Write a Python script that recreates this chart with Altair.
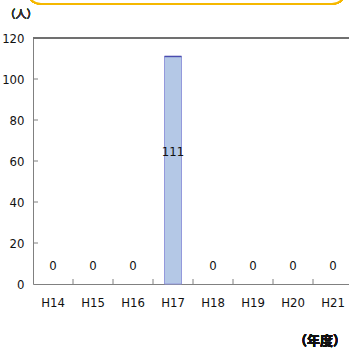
import altair as alt
import pandas as pd

# 年度別の人数
years = ["H14", "H15", "H16", "H17", "H18", "H19", "H20", "H21"]
counts = [0, 0, 0, 111, 0, 0, 0, 0]
y_ticks = [20, 40, 60, 80, 100]

df = pd.DataFrame({"year": years, "count": counts})
tick_df = pd.DataFrame({"v": y_ticks})
bound_df = pd.DataFrame({"year": years[1:]})

FONT = "DejaVu Sans Condensed"
JP_FONT = "Noto Sans CJK JP"
TEXT = "#111111"
W, H = 316, 246

x_scale = alt.Scale(domain=years, range=[0, 320], paddingInner=0, paddingOuter=0)
y_scale = alt.Scale(domain=[0, 120])

base = alt.Chart(df)

bars = base.transform_filter("datum.count > 0").mark_bar(
    size=17, fill="#b4c8e6", stroke="#9499dc", strokeWidth=1
).encode(
    x=alt.X("year:N", scale=x_scale, sort=years,
            axis=alt.Axis(title=None, ticks=False, domainColor="#808080", labelFont=FONT,
                          labelFontSize=13, labelColor=TEXT, labelPadding=12, labelAngle=0)),
    y=alt.Y("count:Q", scale=y_scale,
            axis=alt.Axis(title=None, values=[0, 20, 40, 60, 80, 100, 120], ticks=False,
                          grid=False, domainColor="#808080", labelFont=FONT, labelFontSize=13,
                          labelColor=TEXT, labelPadding=9)),
)

bar_top = base.transform_filter("datum.count > 0").mark_tick(
    size=17, thickness=1.5, color="#2a2a9a"
).encode(x=alt.X("year:N", scale=x_scale, sort=years), y=alt.Y("count:Q", scale=y_scale))

# 値ラベル（0 は基線の上、正の値は棒の中ほど）
zero_labels = base.transform_filter("datum.count == 0").mark_text(
    font=FONT, fontSize=13, color=TEXT, dy=-18
).encode(x=alt.X("year:N", scale=x_scale, sort=years), y=alt.Y("count:Q", scale=y_scale),
         text="count:Q")

mid_labels = base.transform_filter("datum.count > 0").transform_calculate(
    mid="datum.count / 2"
).mark_text(font=FONT, fontSize=13, color=TEXT, dy=-18).encode(
    x=alt.X("year:N", scale=x_scale, sort=years), y=alt.Y("mid:Q", scale=y_scale),
    text="count:Q")

x_ticks = alt.Chart(bound_df).mark_rule(color="#808080").encode(
    x=alt.X("year:N", scale=x_scale, sort=years, bandPosition=0),
    y=alt.value(H - 5), y2=alt.value(H))

y_tick_marks = alt.Chart(tick_df).mark_rule(color="#808080").encode(
    y=alt.Y("v:Q", scale=y_scale), x=alt.value(0), x2=alt.value(5))

top_line = alt.Chart(df).mark_rule(color="#707070").encode(
    x=alt.value(0), x2=alt.value(330), y=alt.value(0))

unit_top = alt.Chart(df).mark_text(font=JP_FONT, fontSize=11, color="#333").encode(
    x=alt.value(-12), y=alt.value(-23), text=alt.value("（人）"))

unit_bottom = alt.Chart(df).mark_text(font=JP_FONT, fontSize=13, fontWeight="bold",
                                      color=TEXT, align="right").encode(
    x=alt.value(313), y=alt.value(303), text=alt.value("（年度）"))

frame = alt.Chart(df).mark_rect(fill="white", stroke="#f5b800", strokeWidth=2,
                                cornerRadius=14).encode(
    x=alt.value(-6), x2=alt.value(313), y=alt.value(-70), y2=alt.value(-34))

chart = alt.layer(
    frame, top_line, bars, bar_top, x_ticks, y_tick_marks, zero_labels, mid_labels,
    unit_top, unit_bottom
).properties(
    width=W, height=H,
    autosize=alt.AutoSizeParams(type="none"),
    padding={"left": 33, "top": 38, "right": 0, "bottom": 68},
).configure_view(stroke=None).configure(background="white")

chart.save("out.html", embed_options={"renderer": "svg", "actions": False})
